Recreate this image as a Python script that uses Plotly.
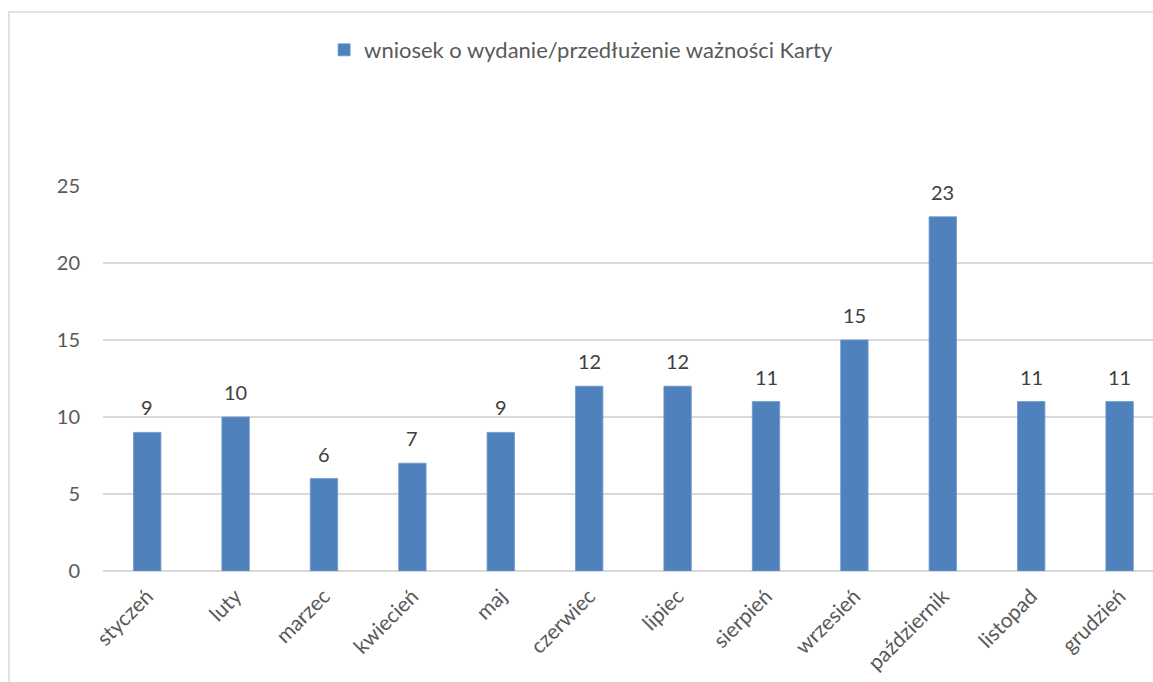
import plotly.graph_objects as go

months = ["styczeń", "luty", "marzec", "kwiecień", "maj", "czerwiec",
          "lipiec", "sierpień", "wrzesień", "październik", "listopad", "grudzień"]
values = [9, 10, 6, 7, 9, 12, 12, 11, 15, 23, 11, 11]
series_name = "wniosek o wydanie/przedłużenie ważności Karty"
y_ticks = [0, 5, 10, 15, 20, 25]

FONT = "Lato"
W, H = 1153, 682
L, R, T, B = 103, 0, 186, 111
pw = W - L - R
ph = H - T - B

fig = go.Figure()
fig.add_trace(go.Bar(
    x=months, y=values, name=series_name,
    marker=dict(color="#4F81BD", line=dict(color="#6F97C9", width=0.8)),
    width=0.31, showlegend=True,
))

for m, v in zip(months, values):
    fig.add_annotation(x=m, y=v, text=str(v), showarrow=False, yanchor="bottom",
                       yshift=11, font=dict(family=FONT, size=20, color="#404040"))

fig.add_shape(type="rect", xref="paper", yref="paper",
              x0=(9 - L) / pw, x1=(W + 10 - L) / pw,
              y0=(H - B - (H + 10)) / ph, y1=(H - B - 12) / ph,
              line=dict(color="#D9D9D9", width=1.5), fillcolor="rgba(0,0,0,0)",
              layer="below")

fig.update_layout(
    width=W, height=H,
    margin=dict(l=L, r=R, t=T, b=B, autoexpand=False),
    plot_bgcolor="white", paper_bgcolor="white",
    font=dict(family=FONT, color="#595959", size=20),
    showlegend=True,
    legend=dict(orientation="h", x=0.504, xanchor="center",
                xref="container", yref="container", y=(H - 50) / H, yanchor="middle",
                font=dict(family=FONT, size=22, color="#595959"),
                itemwidth=30),
    bargap=0.69,
)
fig.update_xaxes(range=[-0.5, -0.5 + pw / 88.4], tickangle=-45, showgrid=False, automargin=False,
                 ticks="", showline=False, ticklabelstandoff=8,
                 tickfont=dict(family=FONT, size=21, color="#595959"))
fig.update_yaxes(range=[0, 25], tickvals=y_ticks, showgrid=True, gridcolor="#D9D9D9",
                 gridwidth=1.5, zeroline=True, zerolinecolor="#D9D9D9", zerolinewidth=1.5,
                 automargin=False, ticks="", ticklabelstandoff=22,
                 tickfont=dict(family=FONT, size=20, color="#595959"))

fig.write_html("out.html", config={"displayModeBar": False},
               post_script=("document.documentElement.style.overflow='hidden';"
                            "document.body.style.margin='0';"
                            "document.body.style.overflow='hidden';"))
